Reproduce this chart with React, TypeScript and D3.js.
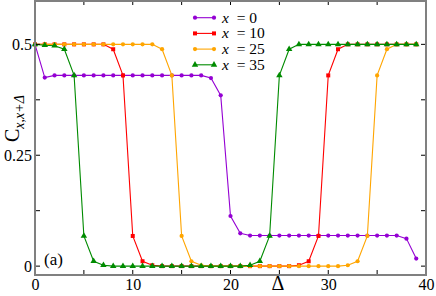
import { useEffect, useRef } from 'react';
import * as d3 from 'd3';

const deltas = d3.range(0, 40);

const x0 = [0.5, 0.425, 0.43, 0.43, 0.43, 0.43, 0.43, 0.43, 0.43, 0.43,
  0.43, 0.43, 0.43, 0.43, 0.43, 0.43, 0.43, 0.43, 0.424, 0.385,
  0.113, 0.074, 0.069, 0.069, 0.069, 0.069, 0.069, 0.069, 0.069, 0.069,
  0.069, 0.069, 0.069, 0.069, 0.069, 0.069, 0.069, 0.069, 0.062, 0.017];

const x10 = [0.5, 0.5, 0.5, 0.5, 0.5, 0.5, 0.5, 0.5, 0.489, 0.43,
  0.068, 0.011, 0.002, 0, 0, 0, 0, 0, 0, 0,
  0, 0, 0, 0, 0, 0, 0, 0.002, 0.011, 0.068,
  0.43, 0.489, 0.5, 0.5, 0.5, 0.5, 0.5, 0.5, 0.5, 0.5];

const x25 = [0.5, 0.5, 0.5, 0.5, 0.5, 0.5, 0.5, 0.5, 0.5, 0.5,
  0.5, 0.5, 0.5, 0.489, 0.43, 0.068, 0.011, 0.002, 0, 0,
  0, 0, 0, 0, 0, 0, 0, 0, 0, 0,
  0, 0, 0.002, 0.011, 0.068, 0.43, 0.489, 0.5, 0.5, 0.5];

const x35 = [0.5, 0.498, 0.497, 0.489, 0.43, 0.068, 0.011, 0.002, 0, 0,
  0, 0, 0, 0, 0, 0, 0, 0, 0, 0,
  0, 0, 0.002, 0.011, 0.068, 0.43, 0.489, 0.5, 0.5, 0.5,
  0.5, 0.5, 0.5, 0.5, 0.5, 0.5, 0.5, 0.5, 0.5, 0.5];

const seriesLabels = ['0', '10', '25', '35'];
const xTickLabels = [0, 10, 20, 30, 40];
const yTickLabels = [0, 0.25, 0.5];

const series = [
  { name: seriesLabels[0], values: x0, color: '#9400d3', marker: 'circle' },
  { name: seriesLabels[1], values: x10, color: '#ff0000', marker: 'square' },
  { name: seriesLabels[2], values: x25, color: '#ffa500', marker: 'circle' },
  { name: seriesLabels[3], values: x35, color: '#008b00', marker: 'triangle' },
];

const width = 436;
const height = 296;
const left = 35;
const right = 426;
const top = 0;
const bottom = 275;
const font = "'Liberation Serif', 'Times New Roman', Times, Tinos, 'Noto Serif', 'DejaVu Serif', serif";

export default function App() {
  const svgRef = useRef<SVGSVGElement>(null);

  useEffect(() => {
    const svg = d3.select(svgRef.current);
    svg.selectAll('*').remove();

    const xScale = d3.scaleLinear().domain([0, 40]).range([left, right]);
    const yScale = d3.scaleLinear().domain([-0.02, 0.6]).range([bottom, top]);

    const line = d3.line<number>()
      .x((v, i) => xScale(deltas[i]))
      .y(v => yScale(v));

    const symbolFor = (m: string) =>
      m === 'square' ? d3.symbol(d3.symbolSquare, 16)
        : m === 'triangle' ? d3.symbol(d3.symbolTriangle, 18)
          : d3.symbol(d3.symbolCircle, 14);

    const plot = svg.append('g');
    series.forEach(s => {
      plot.append('path')
        .attr('d', line(s.values))
        .attr('fill', 'none')
        .attr('stroke', s.color)
        .attr('stroke-width', 1.1);
      plot.selectAll(null)
        .data(s.values)
        .join('path')
        .attr('d', symbolFor(s.marker)())
        .attr('transform', (v, i) => `translate(${xScale(deltas[i])},${yScale(v)})`)
        .attr('fill', s.color);
    });

    // tick labels
    const xAxisB = d3.axisBottom(xScale).tickValues(xTickLabels).tickSize(0).tickPadding(4);
    svg.append('g').attr('transform', `translate(0,${bottom})`).call(xAxisB)
      .call(g => g.select('.domain').remove())
      .call(g => g.selectAll('text').attr('fill', '#000')
        .style('font-size', '16px').style('font-family', font));

    const yAxisL = d3.axisLeft(yScale).tickValues(yTickLabels).tickSize(0).tickPadding(3)
      .tickFormat(d => d3.format('')(d as number));
    svg.append('g').attr('transform', `translate(${left},0)`).call(yAxisL)
      .call(g => g.select('.domain').remove())
      .call(g => g.selectAll('text').attr('fill', '#000')
        .style('font-size', '16px').style('font-family', font));

    // frame with inward ticks
    const axisColor = '#808080';
    const xMinor = d3.range(0, 41, 5);
    const yMinor = [0, 0.125, 0.25, 0.375, 0.5];
    const tickLen = 5;
    const ticks = svg.append('g').attr('stroke', '#000').attr('stroke-width', 1);
    xMinor.forEach(t => {
      ticks.append('line').attr('x1', xScale(t)).attr('x2', xScale(t))
        .attr('y1', bottom).attr('y2', bottom - tickLen);
      ticks.append('line').attr('x1', xScale(t)).attr('x2', xScale(t))
        .attr('y1', top).attr('y2', top + tickLen);
    });
    yMinor.forEach(t => {
      ticks.append('line').attr('x1', left).attr('x2', left + tickLen)
        .attr('y1', yScale(t)).attr('y2', yScale(t));
      ticks.append('line').attr('x1', right).attr('x2', right - tickLen)
        .attr('y1', yScale(t)).attr('y2', yScale(t));
    });

    svg.append('rect')
      .attr('x', left).attr('y', top + 1)
      .attr('width', right - left).attr('height', bottom - top - 1)
      .attr('fill', 'none').attr('stroke', axisColor).attr('stroke-width', 2);

    // legend
    const legend = svg.append('g');
    series.forEach((s, i) => {
      const ly = 17.7 + i * 15.7;
      legend.append('line').attr('x1', 195).attr('x2', 214)
        .attr('y1', ly).attr('y2', ly).attr('stroke', s.color).attr('stroke-width', 1.1);
      [195, 214].forEach(px => {
        legend.append('path').attr('d', symbolFor(s.marker)())
          .attr('transform', `translate(${px},${ly})`).attr('fill', s.color);
      });
      legend.append('text').attr('x', 222).attr('y', ly + 5)
        .style('font-family', font).style('font-size', '15.5px')
        .html(`<tspan font-style="italic">x</tspan>&#160;&#160;= ${s.name}`);
    });

    // axis labels
    svg.append('text')
      .attr('x', 278).attr('y', 290)
      .attr('text-anchor', 'middle')
      .style('font-family', font).style('font-size', '20px')
      .text('Δ');

    const yl = svg.append('text')
      .attr('transform', `translate(19,142) rotate(-90)`)
      .attr('text-anchor', 'start')
      .style('font-family', font);
    yl.append('tspan').style('font-size', '20px').text('C');
    yl.append('tspan').style('font-size', '14px').style('font-style', 'italic')
      .attr('dy', 5).text('x,x+Δ');

    svg.append('text')
      .attr('x', 44).attr('y', 265)
      .style('font-family', font).style('font-size', '17px')
      .text('(a)');
  }, []);

  return (
    <svg ref={svgRef} width={width} height={height}
      style={{ position: 'absolute', left: 0, top: 0, background: '#fff' }} />
  );
}
